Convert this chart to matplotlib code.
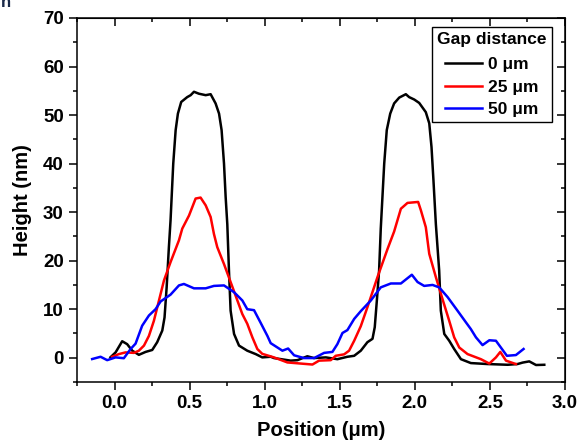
import numpy as np
import matplotlib.pyplot as plt
from matplotlib.ticker import MultipleLocator

plt.rcParams['font.family'] = ['Liberation Sans', 'DejaVu Sans']
plt.rcParams['font.weight'] = 'bold'

# 0 um gap
x_0 = [-0.027, 0.007, 0.051, 0.084, 0.118, 0.162, 0.207, 0.251, 0.284, 0.318, 0.333, 0.347,
       0.362, 0.373, 0.391, 0.407, 0.422, 0.444, 0.484, 0.507, 0.529, 0.562, 0.607, 0.64,
       0.673, 0.696, 0.713, 0.729, 0.74, 0.751, 0.762, 0.773, 0.796, 0.829, 0.884, 0.94,
       0.984, 1.04, 1.062, 1.173, 1.218, 1.284, 1.329, 1.407, 1.484, 1.551, 1.596, 1.64,
       1.684, 1.718, 1.733, 1.747, 1.762, 1.773, 1.796, 1.813, 1.836, 1.862, 1.896, 1.94,
       1.962, 1.996, 2.029, 2.073, 2.096, 2.111, 2.124, 2.14, 2.162, 2.173, 2.196, 2.229,
       2.262, 2.307, 2.373, 2.484, 2.618, 2.684, 2.718, 2.762, 2.807, 2.862]
h_0 = [0.1, 1.1, 3.4, 2.8, 1.45, 0.6, 1.2, 1.6, 3.2, 5.6, 8.3, 14.5,
       22.8, 28.3, 40.0, 46.9, 50.3, 52.7, 53.7, 54.1, 54.8, 54.4, 54.1, 54.3,
       52.4, 50.3, 46.9, 40.0, 33.1, 27.5, 18.0, 9.7, 4.9, 2.5, 1.45, 0.75,
       0.07, 0.2, -0.07, -0.6, -0.5, 0.3, -0.07, 0.07, -0.3, 0.2, 0.4, 1.45,
       3.2, 3.9, 6.3, 11.8, 18.0, 26.6, 40.0, 46.9, 50.3, 52.4, 53.6, 54.3,
       53.7, 53.2, 52.5, 50.6, 48.3, 43.4, 36.5, 27.5, 18.0, 9.7, 4.9, 3.5,
       1.8, -0.3, -1.1, -1.3, -1.45, -1.3, -1.0, -0.75, -1.5, -1.45]

# 25 um gap
x_25 = [-0.016, 0.029, 0.073, 0.129, 0.162, 0.196, 0.229, 0.262, 0.296, 0.329, 0.373,
        0.429, 0.451, 0.496, 0.54, 0.573, 0.607, 0.64, 0.662, 0.684, 0.729, 0.773, 0.818,
        0.851, 0.884, 0.918, 0.951, 0.984, 1.062, 1.151, 1.24, 1.318, 1.362, 1.44, 1.473,
        1.529, 1.562, 1.596, 1.64, 1.684, 1.751, 1.818, 1.862, 1.907, 1.951, 2.022, 2.04,
        2.073, 2.096, 2.14, 2.184, 2.229, 2.262, 2.296, 2.351, 2.44, 2.496, 2.54, 2.569,
        2.607, 2.673]
h_25 = [0.2, 0.75, 1.1, 1.0, 1.45, 2.5, 4.5, 7.6, 11.8, 15.9, 19.7,
        24.2, 26.6, 29.3, 32.8, 33.0, 31.4, 29.0, 25.5, 22.8, 19.3, 15.6, 11.8,
        9.0, 7.0, 4.2, 1.8, 0.8, 0.07, -0.97, -1.2, -1.4, -0.6, -0.5, 0.4,
        0.7, 1.45, 3.5, 6.5, 10.4, 16.6, 22.4, 26.0, 30.7, 31.9, 32.1, 30.4,
        26.9, 21.4, 16.6, 12.1, 7.6, 4.2, 2.1, 0.75, -0.3, -1.2, 0.07, 1.2,
        -0.6, -1.3]

# 50 um gap
x_50 = [-0.149, -0.093, -0.049, 0.007, 0.062, 0.107, 0.14, 0.184, 0.229, 0.273, 0.307,
        0.373, 0.429, 0.462, 0.529, 0.607, 0.662, 0.729, 0.796, 0.851, 0.884, 0.929,
        0.973, 1.018, 1.04, 1.118, 1.156, 1.196, 1.262, 1.329, 1.396, 1.451, 1.484,
        1.518, 1.551, 1.596, 1.64, 1.707, 1.773, 1.84, 1.907, 1.98, 2.018, 2.062, 2.118,
        2.162, 2.218, 2.284, 2.34, 2.373, 2.407, 2.451, 2.496, 2.54, 2.573, 2.613, 2.673,
        2.724]
h_50 = [-0.27, 0.2, -0.5, 0.07, -0.1, 1.8, 2.9, 6.6, 8.7, 10.0, 11.6,
        13.0, 14.9, 15.2, 14.3, 14.3, 14.8, 14.9, 13.5, 11.8, 10.0, 9.8,
        7.2, 4.5, 3.0, 1.45, 1.9, 0.5, -0.07, -0.07, 1.0, 1.2, 2.8,
        5.1, 5.7, 8.0, 9.6, 11.8, 14.5, 15.3, 15.3, 17.1, 15.6, 14.8, 15.0,
        14.5, 12.5, 9.7, 7.3, 5.9, 4.2, 2.6, 3.6, 3.5, 2.1, 0.4, 0.55,
        1.8]

series = [(x_0, h_0, 'black', '0 \u03bcm'),
          (x_25, h_25, 'red', '25 \u03bcm'),
          (x_50, h_50, 'blue', '50 \u03bcm')]

fig = plt.figure(figsize=(5.78, 4.45), dpi=100)
ax = fig.add_axes([77 / 578, 1 - 382 / 445, (565 - 77) / 578, (382 - 18) / 445])

for xs, ys, c, lab in series:
    ax.plot(xs, ys, color=c, lw=1.8, label=lab)

ax.set_xlim(-0.25, 3.0)
ax.set_ylim(-5, 70)
ax.xaxis.set_major_locator(MultipleLocator(0.5))
ax.xaxis.set_minor_locator(MultipleLocator(0.25))
ax.yaxis.set_major_locator(MultipleLocator(10))
ax.yaxis.set_minor_locator(MultipleLocator(5))
ax.set_xticks([0.0, 0.5, 1.0, 1.5, 2.0, 2.5, 3.0])
ax.set_yticks([0, 10, 20, 30, 40, 50, 60, 70])

for s in ax.spines.values():
    s.set_linewidth(1.1)

ax.tick_params(which='both', direction='out', top=False, right=False, width=1.1,
               labelsize=13.5, pad=4)
ax.tick_params(which='major', length=5.5)
ax.tick_params(which='minor', length=3)

# inward ticks on top and right
ax_t = ax.secondary_xaxis('top')
ax_t.xaxis.set_major_locator(MultipleLocator(0.5))
ax_t.xaxis.set_minor_locator(MultipleLocator(0.25))
ax_t.tick_params(which='both', direction='in', labeltop=False, width=1.1)
ax_t.tick_params(which='major', length=5.5)
ax_t.tick_params(which='minor', length=3)
ax_r = ax.secondary_yaxis('right')
ax_r.yaxis.set_major_locator(MultipleLocator(10))
ax_r.yaxis.set_minor_locator(MultipleLocator(5))
ax_r.tick_params(which='both', direction='in', labelright=False, width=1.1)
ax_r.tick_params(which='major', length=5.5)
ax_r.tick_params(which='minor', length=3)

for lab in ax.get_xticklabels() + ax.get_yticklabels():
    lab.set_fontweight('bold')

ax.set_xlabel('Position (\u03bcm)', fontsize=14.5, fontweight='bold', labelpad=6)
ax.set_ylabel('Height (nm)', fontsize=14.5, fontweight='bold', labelpad=8)

leg = ax.legend(title='Gap distance', loc='upper right', bbox_to_anchor=(0.973, 0.975),
                fancybox=False, edgecolor='black', framealpha=1,
                prop={'weight': 'bold', 'size': 12.5}, handlelength=2.1,
                borderpad=0.3, labelspacing=0.42, handletextpad=0.35, borderaxespad=0)
leg.get_title().set_fontweight('bold')
leg.get_title().set_fontsize(12.5)
leg.get_frame().set_linewidth(1.0)
leg._legend_box.sep = 7

fig.text(0.001, 1.012, 'n', fontsize=12, color='#1b2a4a', va='top', ha='left')

fig.savefig('out.png', dpi=100)
